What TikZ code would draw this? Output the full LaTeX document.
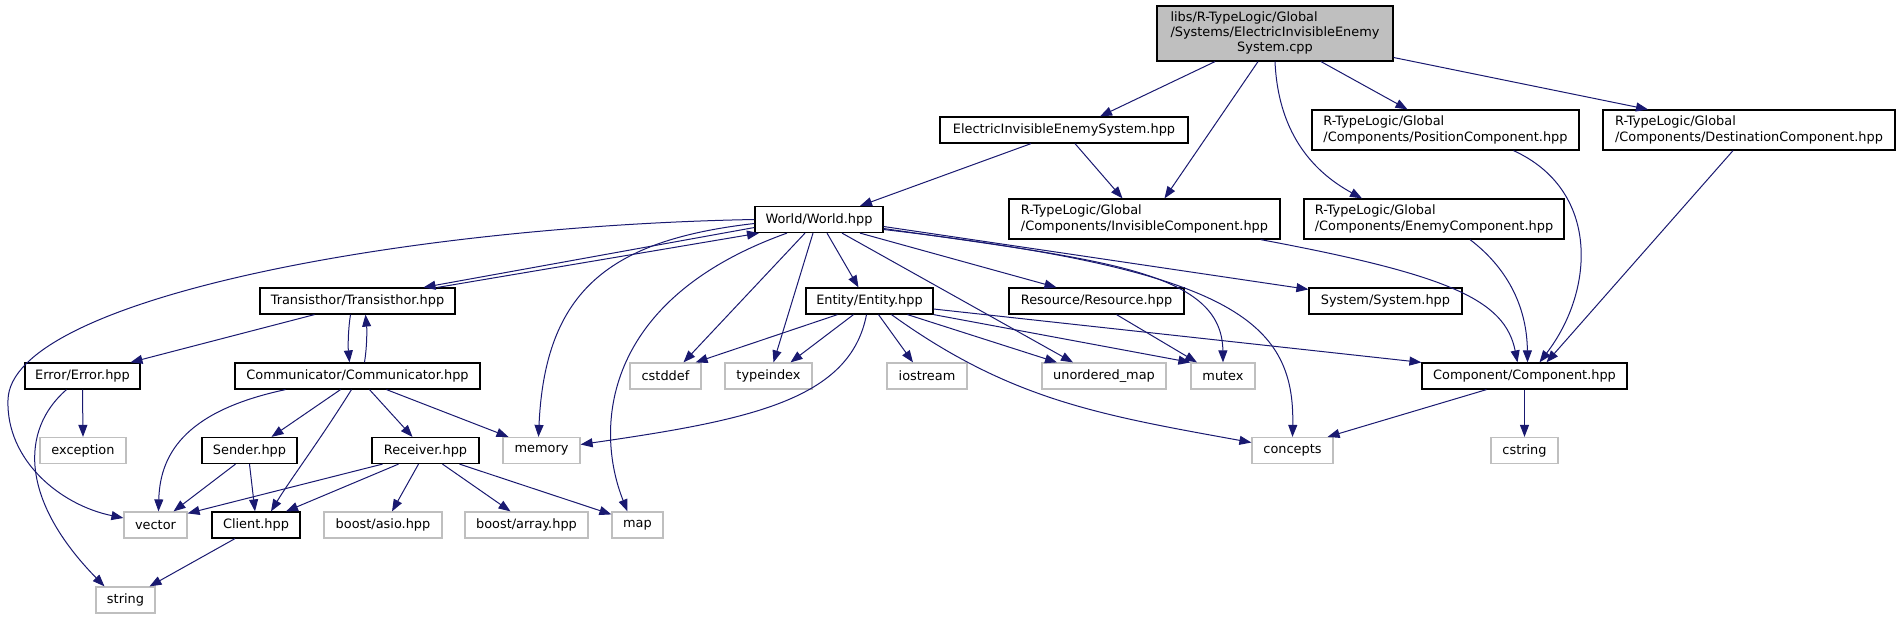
\documentclass[tikz,border=0pt]{standalone}
\usepackage{fontspec}
\setmainfont{DejaVu Sans}
\usetikzlibrary{arrows.meta, calc}
\definecolor{depblue}{RGB}{25, 25, 112}
\definecolor{extgray}{RGB}{191, 191, 191}
\newcommand{\dxfont}{\fontsize{12.9}{15.3}\selectfont}
\tikzset{
  incbox/.style={rectangle, draw=black, fill=white, line width=1.2pt, inner sep=0pt,
                 minimum width=#1, minimum height=26pt, align=center, font=\dxfont},
  incbox/.default=100pt,
  sysbox/.style={incbox=#1, draw=extgray},
  sysbox/.default=60pt,
  pathbox/.style={incbox=#1, minimum height=40pt, align=left},
  rootbox/.style={incbox=#1, fill=extgray, minimum height=55pt},
  dep/.style={-{Triangle[length=12pt, width=9pt]}, depblue, line width=1pt},
}

\begin{document}
\begin{tikzpicture}[x=1pt, y=-1pt]
\useasboundingbox (0,0) rectangle (1899,619);

\node[rootbox=236pt] (root) at (1275,33.5)
  {\begin{tabular}{@{}l@{}}libs/R-TypeLogic/Global\\/Systems/ElectricInvisibleEnemy\\\multicolumn{1}{@{}c@{}}{System.cpp}\end{tabular}};

\node[incbox=248pt] (eies) at (1064,130) {ElectricInvisibleEnemySystem.hpp};
\node[pathbox=267pt] (pos) at (1445.5,130) {R-TypeLogic/Global\\/Components/PositionComponent.hpp};
\node[pathbox=292pt] (dest) at (1749,130) {R-TypeLogic/Global\\/Components/DestinationComponent.hpp};

\node[incbox=128pt] (world) at (819,219.5) {World/World.hpp};
\node[pathbox=271pt] (invis) at (1144.5,219) {R-TypeLogic/Global\\/Components/InvisibleComponent.hpp};
\node[pathbox=260pt] (enemy) at (1434,219) {R-TypeLogic/Global\\/Components/EnemyComponent.hpp};

\node[incbox=195pt] (trans) at (357.5,301) {Transisthor/Transisthor.hpp};
\node[incbox=127pt] (entity) at (869.5,301) {Entity/Entity.hpp};
\node[incbox=175pt] (res) at (1096.5,301) {Resource/Resource.hpp};
\node[incbox=153pt] (sys) at (1385.5,301) {System/System.hpp};

\node[incbox=115pt] (error) at (82.5,376) {Error/Error.hpp};
\node[incbox=245pt] (comm) at (357.5,376) {Communicator/Communicator.hpp};
\node[sysbox=71pt] (cstddef) at (665.5,376) {cstddef};
\node[sysbox=87pt] (typeindex) at (768.5,376) {typeindex};
\node[sysbox=80pt] (iostream) at (927,376) {iostream};
\node[sysbox=124pt] (umap) at (1104,376) {unordered\_map};
\node[sysbox=64pt] (mutex) at (1223,376) {mutex};
\node[incbox=205pt] (comp) at (1524.5,376) {Component/Component.hpp};

\node[sysbox=86pt] (exception) at (83,450.5) {exception};
\node[incbox=95pt] (sender) at (249.5,450.5) {Sender.hpp};
\node[incbox=107pt] (receiver) at (425.5,450.5) {Receiver.hpp};
\node[sysbox=77pt] (memory) at (541.5,450.5) {memory};
\node[sysbox=81pt] (concepts) at (1292.5,450.5) {concepts};
\node[sysbox=67pt] (cstring) at (1524.5,450.5) {cstring};

\node[sysbox=63pt] (vector) at (155.5,525) {vector};
\node[incbox=88pt] (client) at (256,525) {Client.hpp};
\node[sysbox=118pt] (asio) at (383,525) {boost/asio.hpp};
\node[sysbox=123pt] (array) at (526.5,525) {boost/array.hpp};
\node[sysbox=51pt] (map) at (637.5,525) {map};

\node[sysbox=59pt] (string) at (125.5,600) {string};

% includes of the source file
\draw[dep] ([xshift=-60pt]root.south) -- ([xshift=36pt]eies.north);
\draw[dep] ([xshift=-17pt]root.south) -- ([xshift=20pt]invis.north);
\draw[dep] (root.south) .. controls (1278,130) and (1310,170) .. ([xshift=-72pt]enemy.north);
\draw[dep] ([xshift=46pt]root.south) -- ([xshift=-38pt]pos.north);
\draw[dep] ([yshift=-24pt]root.east) -- ([xshift=-101pt]dest.north);
\draw[dep] ([xshift=-33pt]eies.south) -- ([xshift=41pt]world.north);
\draw[dep] ([xshift=11pt]eies.south) -- ([xshift=-22pt]invis.north);

% World/World.hpp
\draw[dep] (world.west) .. controls (400,226) and (10,300) .. (8,400)
  .. controls (6,460) and (60,505) .. ([yshift=7pt]vector.west);
\draw[dep] ([yshift=-4pt]world.west) .. controls (610,240) and (545,290) .. ([xshift=-3pt]memory.north);
\draw[dep] ([yshift=-8pt]world.west) -- ([xshift=66pt]trans.north);
\draw[dep] ([xshift=80pt]trans.north) -- ([xshift=-60pt]world.south);
\draw[dep] ([xshift=-32pt]world.south) .. controls (600,300) and (595,430) .. ([xshift=-10pt]map.north);
\draw[dep] ([xshift=-14pt]world.south) -- ([xshift=18pt]cstddef.north);
\draw[dep] ([xshift=-6pt]world.south) -- ([xshift=5pt]typeindex.north);
\draw[dep] ([xshift=8pt]world.south) -- ([xshift=-11pt]entity.north);
\draw[dep] ([xshift=23pt]world.south) -- ([xshift=-31pt]umap.north);
\draw[dep] ([xshift=41pt]world.south) -- ([xshift=-40pt]res.north);
\draw[dep] ([yshift=-9pt]world.east) .. controls (1100,260) and (1222,270) .. (mutex.north);
\draw[dep] ([yshift=-10pt]world.east) .. controls (1230,270) and (1295,320) .. (concepts.north);
\draw[dep] ([yshift=-7pt]world.east) -- ([yshift=-2pt]sys.north west);

% Entity/Entity.hpp
\draw[dep] ([xshift=-32pt]entity.south) -- ([xshift=-6pt]cstddef.north east);
\draw[dep] ([xshift=-16pt]entity.south) -- ([xshift=22pt]typeindex.north);
\draw[dep] ([xshift=-3pt]entity.south) .. controls (850,400) and (750,420) .. ([yshift=6pt]memory.east);
\draw[dep] ([xshift=9pt]entity.south) -- ([xshift=-14pt]iostream.north);
\draw[dep] ([xshift=22pt]entity.south) .. controls (1010,400) and (1100,415) .. ([yshift=8pt]concepts.west);
\draw[dep] ([xshift=38pt]entity.south) -- ([xshift=-47pt]umap.north);
\draw[dep] (entity.south east) -- (mutex.north west);
\draw[dep] ([yshift=-8pt]entity.east) -- (comp.north west);
\draw[dep] ([xshift=20pt]res.south) -- ([xshift=-26pt]mutex.north);

% Component/Component.hpp
\draw[dep] ([xshift=-20pt]invis.south east) .. controls (1450,275) and (1505,300) .. ([xshift=-7pt]comp.north);
\draw[dep] ([xshift=36pt]enemy.south) .. controls (1510,270) and (1527,310) .. ([xshift=3pt]comp.north);
\draw[dep] ([xshift=68pt]pos.south) .. controls (1600,190) and (1595,290) .. ([xshift=15pt]comp.north);
\draw[dep] ([xshift=-16pt]dest.south) -- ([xshift=22pt]comp.north);
\draw[dep] ([xshift=-38pt]comp.south) -- ([xshift=-6pt]concepts.north east);
\draw[dep] (comp.south) -- (cstring.north);

% Transisthor and Communicator
\draw[dep] ([xshift=-43pt]trans.south) -- ([xshift=48pt]error.north);
\draw[dep] ([xshift=-7pt]trans.south) .. controls (348,330) and (348,347) .. ([xshift=-8pt]comm.north);
\draw[dep] ([xshift=7pt]comm.north) .. controls (367,347) and (367,330) .. ([xshift=8pt]trans.south);
\draw[dep] (error.south) -- (exception.north);
\draw[dep] ([xshift=-16pt]error.south) .. controls (20,430) and (20,500) .. ([xshift=-21pt]string.north);
\draw[dep] ([xshift=-72pt]comm.south) .. controls (190,410) and (160,450) .. ([xshift=3pt]vector.north);
\draw[dep] ([xshift=-17pt]comm.south) -- ([xshift=22pt]sender.north);
\draw[dep] ([xshift=-6pt]comm.south) .. controls (320,440) and (290,480) .. ([xshift=15pt]client.north);
\draw[dep] ([xshift=12pt]comm.south) -- ([xshift=-13pt]receiver.north);
\draw[dep] ([xshift=29pt]comm.south) -- ([xshift=-33pt]memory.north);
\draw[dep] ([xshift=-14pt]sender.south) -- ([xshift=18pt]vector.north);
\draw[dep] (sender.south) -- ([xshift=-1pt]client.north);
\draw[dep] ([xshift=-43pt]receiver.south) -- ([yshift=-2pt]vector.north east);
\draw[dep] ([xshift=-27pt]receiver.south) -- ([xshift=30pt]client.north);
\draw[dep] ([xshift=-7pt]receiver.south) -- ([xshift=9pt]asio.north);
\draw[dep] ([xshift=17pt]receiver.south) -- ([xshift=-16pt]array.north);
\draw[dep] ([xshift=34pt]receiver.south) -- ([yshift=-3pt]map.north west);
\draw[dep] ([xshift=-21pt]client.south) -- ([xshift=24pt]string.north);
\end{tikzpicture}
\end{document}
